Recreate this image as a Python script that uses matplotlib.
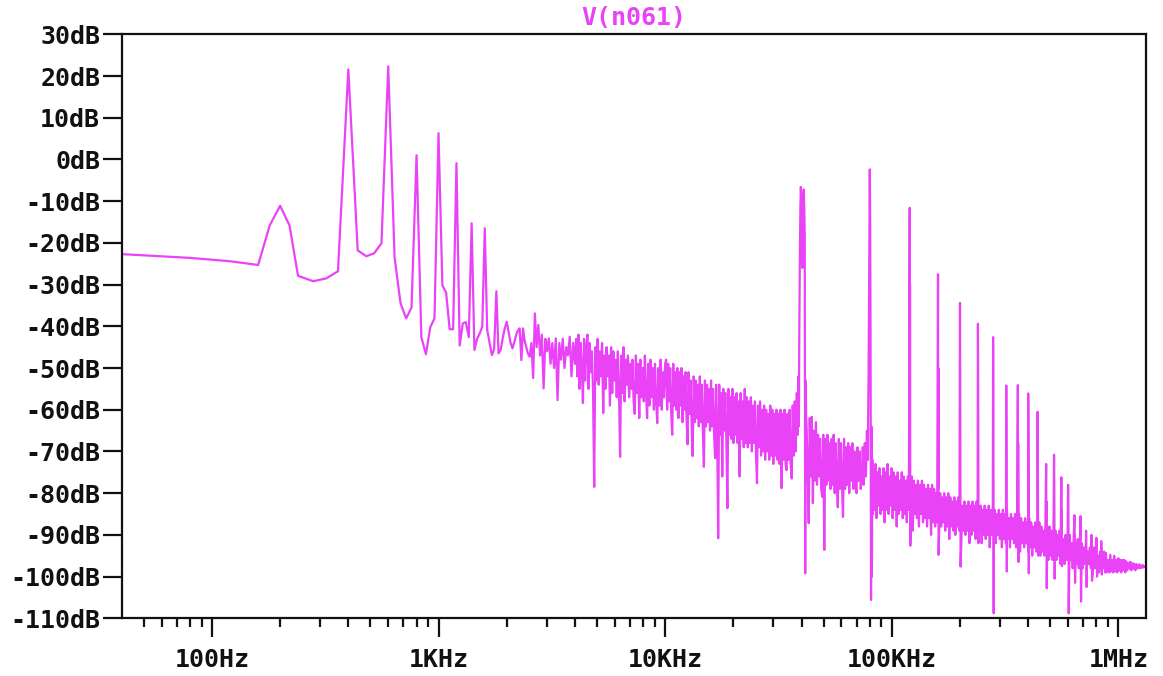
import numpy as np
import matplotlib
matplotlib.use("Agg")
import matplotlib.pyplot as plt
from matplotlib.ticker import FixedLocator, NullFormatter

TRACE = "#EA42F7"
FONT = "DejaVu Sans Mono"

# ---- spectrum data: V(n061), magnitude in dB ----
# low-frequency bins (Hz)
lf_freq = [40, 80, 120, 160, 180, 200, 220, 240, 280, 320, 360, 400, 440, 480,
           520, 560, 600, 640, 680, 720, 760, 800, 840, 880, 920, 960, 1000,
           1040, 1080, 1120, 1160, 1200, 1240, 1280, 1320, 1360, 1400, 1440,
           1480, 1520, 1560, 1600, 1640, 1680, 1720, 1760, 1800, 1840, 1880,
           1920, 1960, 2000, 2040, 2080, 2120, 2160, 2200, 2240, 2280, 2320,
           2360, 2400, 2440]
lf_db = [-22.7, -23.6, -24.4, -25.3, -15.8, -11.1, -15.8, -27.9, -29.2, -28.5,
         -26.8, 21.6, -21.8, -23.2, -22.5, -20.1, 22.3, -23.5, -34.5, -38.1,
         -35.5, 1.0, -42.6, -46.7, -40.2, -38.1, 6.3, -30.2, -31.9, -40.7,
         -40.7, -0.9, -44.6, -39.3, -39.0, -42.6, -15.3, -45.7, -43.0, -41.7,
         -40.1, -16.5, -40.9, -44.0, -46.9, -45.5, -31.6, -46.5, -45.7, -42.9,
         -40.5, -38.9, -41.5, -44.0, -45.3, -43.8, -42.1, -41.0, -40.5, -48.1,
         -40.5, -43.5, -45.0]

# noise floor segments: (start Hz, end Hz) and dB samples across each span
seg1_span = (2480, 4000)
seg1_db = [-46.5, -47.3, -44, -52.4, -36.9, -45, -39.7, -47, -42, -54.9,
           -43, -46, -42.9, -49, -44, -50, -42.9, -57.7, -44, -48,
           -43, -50, -45, -47, -42.5, -52, -44, -49]

seg2_span = (4050, 10000)
seg2_db = [-43, -52, -42, -55, -44, -50, -58.4, -43, -53, -45,
           -42, -55, -44, -51, -46, -56, -78.5, -45, -53, -43,
           -54, -46, -52, -44, -60.8, -47, -55, -45, -52, -47,
           -59, -45, -56, -46, -53, -48, -57, -46, -55, -71.3,
           -47, -56, -45, -58, -48, -54, -47, -57, -49, -55,
           -48, -58, -61, -47, -56, -49, -62, -48, -57, -50,
           -58, -47, -56, -62, -49, -59, -48, -57, -50, -60,
           -49, -58, -63.2, -50, -59, -48, -60, -51, -57, -49]

seg3_span = (10100, 38500)
seg3_db = [-48, -60, -49, -58, -50, -61, -66, -49, -59, -51,
           -60, -50, -62, -51, -59, -50, -63, -52, -60, -51,
           -62, -68.3, -51, -61, -53, -64, -71.1, -52, -63, -53,
           -62, -54, -64, -52, -63, -54, -65, -73.7, -53, -64,
           -54, -63, -55, -65, -53, -64, -55, -66, -71.6, -54,
           -65, -90.8, -54, -66, -56, -76, -55, -65, -56, -67,
           -83.6, -55, -66, -57, -67, -55, -68, -57, -66, -56,
           -68, -58, -76, -56, -67, -58, -69, -55, -68, -57,
           -69, -58, -68, -57, -70, -59, -68, -58, -70, -77.6,
           -59, -69, -58, -71, -60, -70, -59, -72, -60, -70,
           -61, -72, -59, -71, -60, -73, -61, -71, -60, -72,
           -61, -73, -60, -78.8, -61, -72, -60, -73, -74.5, -61,
           -72, -60, -73, -76.5, -59, -71, -58, -70, -56, -66]

# first switching component near 40 kHz
sw1_freq = [38700, 38900, 39100, 39300, 39500, 39700, 39900, 40100, 40300,
            40500, 40700, 40900, 41100, 41300, 41500, 41700, 41900]
sw1_db = [-52, -64, -40, -24, -12, -6.6, -10, -24, -26, -20, -9, -7.2, -12,
          -18.6, -99.2, -53, -62]

seg4_span = (42100, 78500)
seg4_db = [-64, -74, -87.2, -62, -76, -61.7, -82.4, -65, -77, -63,
           -78, -66, -76, -67, -79, -80.9, -66, -93.6, -67, -78,
           -66, -77, -68, -79, -67, -78, -66, -80, -68, -77,
           -83.4, -67, -79, -68, -78, -85.7, -67, -79, -69, -78,
           -68, -80, -69, -77, -68, -79, -70, -78, -80, -69,
           -77, -70, -79, -77, -69, -78, -68, -76, -65, -72]

# second switching component near 80 kHz
sw2_freq = [78700, 79000, 79300, 79600, 80000, 80300, 80600, 81000, 81300,
            81700, 82100, 82600]
sw2_db = [-60, -52, -38, -20, -2.4, -16, -42, -105.6, -64, -100, -72, -85]

seg5_span = (83000, 1317000)
seg5_db = [-74, -84, -73, -86, -75, -83, -74, -85, -76, -84,
           -74, -87, -75, -84, -73, -85, -76, -83, -74, -86,
           -75, -84, -76, -88, -75, -85, -77, -84, -75, -86,
           -76, -85, -77, -87, -76, -84, -77, -86, -76, -89,
           -77, -85, -78, -86, -77, -88, -78, -85, -77, -87,
           -78, -86, -79, -88, -78, -86, -79, -90, -78, -87,
           -79, -88, -80, -87, -79, -89, -80, -88, -81, -87,
           -80, -89, -81, -88, -80, -91, -81, -88, -82, -89,
           -81, -90, -82, -88, -81, -89, -82, -91, -83, -89,
           -82, -90, -83, -89, -82, -92, -83, -90, -82, -89,
           -83, -91, -82, -90, -84, -89, -83, -92, -84, -90,
           -83, -91, -84, -90, -83, -93, -84, -90, -85, -91,
           -84, -92, -85, -90, -84, -91, -85, -93, -84, -91,
           -85, -92, -84, -91, -86, -93, -85, -91, -86, -92,
           -85, -93, -86, -91, -85, -94, -86, -92, -87, -93,
           -86, -92, -87, -94, -86, -93, -87, -95, -88, -93,
           -87, -94, -88, -93, -87, -95, -88, -94, -89, -95,
           -88, -94, -89, -96, -88, -95, -89, -96, -90, -95,
           -89, -96, -90, -95, -89, -97, -90, -96, -91, -97,
           -90, -96, -91, -97, -90, -96, -92, -98, -91, -97,
           -92, -97, -91, -98, -93, -97, -92, -98, -93, -97,
           -93, -98, -94, -97, -93, -98, -94, -99, -93, -98,
           -94, -98, -95, -99, -94, -98, -95, -98, -94, -99,
           -95, -98, -96, -99, -95, -98, -96, -99, -95, -98,
           -96, -99, -96, -98, -96, -99, -97, -98, -96, -99,
           -96.5, -98.5, -97, -98, -96.5, -98.5, -97, -98, -97, -98.5,
           -97, -98, -97.2, -98, -97.3, -97.9, -97.4, -97.8, -97.5, -97.6]

# higher harmonics of the 40 kHz switching frequency
harm_khz = [120, 160, 200, 240, 280, 320, 360, 400, 440, 480, 520, 560, 600,
            640, 680, 720, 760, 800, 840, 880, 920, 960, 1000, 1040, 1080,
            1120, 1160, 1200, 1240, 1280]
harm_peak_db = [-11.6, -27.5, -34.4, -39.4, -42.6, -54.2, -54.1, -56.1, -60.5,
                -73.0, -70.8, -76.2, -78.0, -85.3, -85.5, -89.0, -90.0, -90.7,
                -91.5, -94.3, -94.8, -95.2, -95.6, -96.0, -96.3, -96.6, -96.8,
                -97.0, -97.1, -97.2]
harm_shoulder_db = [-30, -50, -60, -56, -62, -70, -68, -72, -75, -82, -80,
                    -84, -85, -90, -90, -93, -93, -94, -94, -96, -96, -96.5,
                    -96.8, -97, -97.2, -97.3, -97.4, -97.5, -97.5, -97.6]
harm_dip_db = [-92.6, -94.8, -97.6, -92.0, -108.8, -98.8, -96.5, -99.2, -95.0,
               -102.8, -100.5, -97.5, -108.8, -101.5, -106.0, -102.5, -101.0,
               -100.0, -99.5, -99.0, -98.8, -98.8, -98.6, -98.5, -98.3, -98.2,
               -98.1, -98.0, -97.9, -97.8]

y_ticks = list(range(-110, 31, 10))
x_major = [100, 1e3, 1e4, 1e5, 1e6]
x_major_labels = ["100Hz", "1KHz", "10KHz", "100KHz", "1MHz"]


def span_points(span, values):
    return np.geomspace(span[0], span[1], len(values)), np.asarray(values, float)


parts_f, parts_db = [np.asarray(lf_freq, float)], [np.asarray(lf_db, float)]
for span, vals in [(seg1_span, seg1_db), (seg2_span, seg2_db),
                   (seg3_span, seg3_db), (seg4_span, seg4_db),
                   (seg5_span, seg5_db)]:
    f, d = span_points(span, vals)
    parts_f.append(f)
    parts_db.append(d)
parts_f += [np.asarray(sw1_freq, float), np.asarray(sw2_freq, float)]
parts_db += [np.asarray(sw1_db, float), np.asarray(sw2_db, float)]
hf = np.asarray(harm_khz, float) * 1e3
parts_f += [hf, hf * 1.003, hf * 1.006]
parts_db += [np.asarray(harm_peak_db, float),
             np.asarray(harm_shoulder_db, float),
             np.asarray(harm_dip_db, float)]

freq = np.concatenate(parts_f)
mag = np.concatenate(parts_db)
order = np.argsort(freq, kind="stable")
freq, mag = freq[order], mag[order]

# ---- figure ----
W, H = 1163, 676
fig = plt.figure(figsize=(W / 100, H / 100), dpi=100)
left, right, top, bottom = 121.7, 1145.5, 34.3, 618.3
ax = fig.add_axes([left / W, 1 - bottom / H, (right - left) / W, (bottom - top) / H])

ax.plot(freq, mag, color=TRACE, lw=1.6, solid_joinstyle="round")

ax.set_xscale("log")
ax.set_xlim(40, 1.317e6)
ax.set_ylim(-110, 30)

ax.xaxis.set_major_locator(FixedLocator(x_major))
ax.set_xticklabels(x_major_labels)
minor = [m * 10 ** e for e in range(1, 7) for m in range(2, 10)]
minor = [v for v in minor if 40 < v < 1.317e6]
ax.xaxis.set_minor_locator(FixedLocator(minor))
ax.xaxis.set_minor_formatter(NullFormatter())

ax.set_yticks(y_ticks)
ax.set_yticklabels([f"{v}dB" for v in y_ticks])

for s in ax.spines.values():
    s.set_linewidth(1.6)
    s.set_color("#111111")

ax.tick_params(axis="both", which="major", direction="out", length=13.5,
               width=1.6, color="#111111", labelsize=18, pad=2)
ax.tick_params(axis="x", which="major", pad=8)
ax.tick_params(axis="x", which="minor", direction="out", length=6.5,
               width=1.6, color="#111111")
for lab in ax.get_xticklabels() + ax.get_yticklabels():
    lab.set_family(FONT)
    lab.set_weight("bold")
    lab.set_color("#111111")

ax.set_title("V(n061)", color=TRACE, fontsize=18, family=FONT,
             weight="bold", pad=7)

fig.savefig("out.png", dpi=100, facecolor="white")
